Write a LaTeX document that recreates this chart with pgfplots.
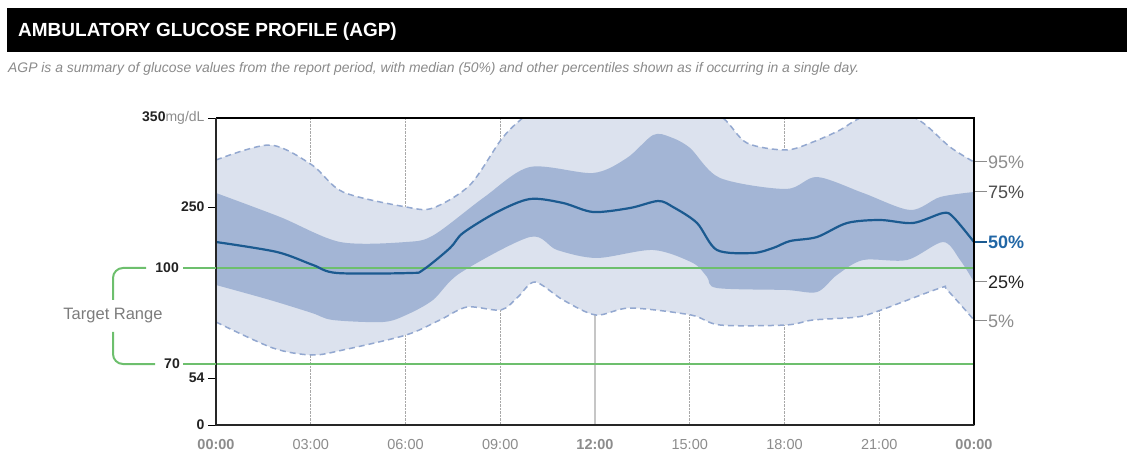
\documentclass[border=0pt]{standalone}
\usepackage{pgfplots}
\pgfplotsset{compat=1.18}
\usepgfplotslibrary{fillbetween}
\usepackage{fontspec}
\setmainfont{Liberation Sans}
\definecolor{bandlight}{HTML}{DCE2EE}
\definecolor{banddark}{HTML}{A3B5D5}
\definecolor{medblue}{HTML}{1B5A90}
\definecolor{dashblue}{HTML}{93A8D0}
\definecolor{tgreen}{HTML}{6DBF6D}
\definecolor{subgray}{HTML}{8A8A8A}
\definecolor{tickgray}{HTML}{8C8C8C}
\definecolor{darktxt}{HTML}{222222}
\definecolor{gridgray}{HTML}{A8A8A8}
\definecolor{lbl50}{HTML}{2166A5}

\begin{document}
\begin{tikzpicture}[x=1pt,y=1pt]
\path (0,0) rectangle (1127,453);
\fill[black] (7,401) rectangle (1127,445);
\node[anchor=base west, text=white, font=\fontsize{19}{22}\selectfont\bfseries, inner sep=0] at (18,416) {AMBULATORY GLUCOSE PROFILE (AGP)};
\node[anchor=base west, text=subgray, font=\fontsize{13.9}{16}\selectfont\itshape, inner sep=0] at (8,380) {AGP is a summary of glucose values from the report period, with median (50\%) and other percentiles shown as if occurring in a single day.};

\begin{axis}[
  at={(216pt,28pt)}, anchor=south west,
  scale only axis, width=758pt, height=307pt,
  xmin=0, xmax=24, ymin=0, ymax=307,
  set layers,
  axis line style={draw=none},
  xtick={0,3,6,9,12,15,18,21,24},
  xticklabels={\textbf{00:00},03:00,06:00,09:00,\textbf{12:00},15:00,18:00,21:00,\textbf{00:00}},
  xticklabel style={font=\fontsize{14.5}{16}\selectfont, text=tickgray, yshift=-3pt},
  xtick style={draw=none},
  xmajorgrids,
  major grid style={gridgray, densely dotted, line width=0.9pt},
  extra x ticks={12},
  extra x tick labels={},
  extra x tick style={grid=major, major grid style={solid, gray!45, line width=1.3pt}},
  ytick={0,47,218,307},
  yticklabels={\textbf{0},\textbf{54},\textbf{250},\textbf{350}\textcolor{tickgray}{mg/dL}},
  yticklabel style={font=\fontsize{14}{16}\selectfont, text=darktxt},
  ytick pos=left,
  tick align=outside,
  ytick style={black, line width=0.9pt},
  major tick length=8pt,
]
% 95th percentile
\addplot[name path=p95, dashblue, dash pattern=on 6pt off 4pt, line width=1.5pt, smooth] coordinates {
(0,265) (1.71,280) (3.04,260) (4.02,233) (6.02,218) (6.87,217) (8.04,240) (9.02,285) (9.6,304)
(10.5,325) (12,336) (13.5,336) (15,323) (16.05,307) (16.81,282) (18.05,275) (18.9,283)
(19.76,295) (20.33,306) (21.3,316) (22.3,304) (23.24,278) (24,263)};
% 5th percentile
\addplot[name path=p05, dashblue, dash pattern=on 6pt off 4pt, line width=1.5pt, smooth] coordinates {
(0,103) (1.8,77) (3.04,70) (4.02,75) (6.02,90) (7.09,105) (7.95,118) (9.02,115) (9.56,128)
(10.1,143) (10.99,125) (12.03,110) (13.11,117) (15.04,110) (15.96,100) (18.05,100) (18.9,105)
(20.3,108) (21.06,115) (22.93,137) (23.15,135) (24,105)};
% 75th percentile
\addplot[name path=p75, draw=none, smooth] coordinates {
(0,232) (2.03,208) (3.93,183) (6.02,183) (6.9,190) (8.5,228) (9.94,258) (11.94,252)
(13.01,267) (13.84,290) (14.38,288) (15.01,277) (15.96,247) (18.05,236) (19.03,248) (20.49,232)
(21.98,215) (22.93,228) (24,233)};
% 25th percentile
\addplot[name path=p25, draw=none, smooth] coordinates {
(0,140) (1.71,125) (3.04,112) (3.7,105) (5.29,103) (6.02,110) (6.87,125) (7.73,152) (9.94,188)
(10.8,175) (12.06,167) (13.84,175) (15.1,162) (15.55,148) (15.86,137) (18.05,135) (19.03,133)
(19.66,150) (20.49,165) (21.88,165) (23.02,183) (23.56,165) (24,143)};
\addplot[bandlight] fill between[of=p95 and p05];
\addplot[banddark] fill between[of=p75 and p25];
% target range lines
\addplot[tgreen, line width=2pt] coordinates {(0,157) (24,157)};
\addplot[tgreen, line width=2pt] coordinates {(0,61) (24,61)};
% median
\addplot[medblue, line width=2.2pt, smooth] coordinates {
(0,183) (1.93,173) (3.07,160) (3.83,152) (6.14,152) (6.55,155) (7.41,177) (7.82,192) (8.9,213)
(9.94,226) (10.99,222) (11.94,213) (13.11,217) (14.0,224) (14.47,218) (15.23,202) (15.86,175)
(17.0,172) (17.64,177) (18.18,184) (19.03,188) (19.98,202) (21.03,205) (22.07,202) (23.02,212)
(23.34,208) (24,183)};
\end{axis}

% frame
\draw[black, line width=1.2pt] (216,335) -- (974,335) -- (974,28);
\draw[black!85, line width=1.6pt] (216,335) -- (216,28) -- (974,28);

% target range bracket
\draw[tgreen, line width=2pt, rounded corners=10pt] (146,185) -- (113,185) -- (113,153);
\draw[tgreen, line width=2pt, rounded corners=10pt] (113,121) -- (113,89) -- (155,89);
\draw[tgreen, line width=2pt] (183,185) -- (216,185);
\draw[tgreen, line width=2pt] (183,89) -- (216,89);
\node[anchor=east, inner sep=0, font=\fontsize{14}{16}\selectfont\bfseries, text=darktxt] at (179,185) {100};
\node[anchor=east, inner sep=0, font=\fontsize{14}{16}\selectfont\bfseries, text=darktxt] at (180,89) {70};
\node[inner sep=0, font=\fontsize{16.5}{18}\selectfont, text=subgray!90!black] at (113,137) {Target Range};

% percentile labels
\draw[tickgray, line width=1pt] (975,291) -- (987,291);
\node[anchor=west, inner sep=0, font=\fontsize{18}{20}\selectfont, text=tickgray] at (988,291) {95\%};
\draw[tickgray, line width=1pt] (975,261) -- (987,261);
\node[anchor=west, inner sep=0, font=\fontsize{18}{20}\selectfont, text=black!70] at (988,261) {75\%};
\draw[medblue, line width=1.6pt] (975,211) -- (987,211);
\node[anchor=west, inner sep=0, font=\fontsize{18}{20}\selectfont\bfseries, text=lbl50] at (988,211) {50\%};
\draw[tickgray, line width=1pt] (975,171) -- (987,171);
\node[anchor=west, inner sep=0, font=\fontsize{18}{20}\selectfont, text=darktxt] at (988,171) {25\%};
\draw[tickgray, line width=1pt] (975,132) -- (987,132);
\node[anchor=west, inner sep=0, font=\fontsize{18}{20}\selectfont, text=tickgray] at (988,132) {5\%};
\end{tikzpicture}
\end{document}
